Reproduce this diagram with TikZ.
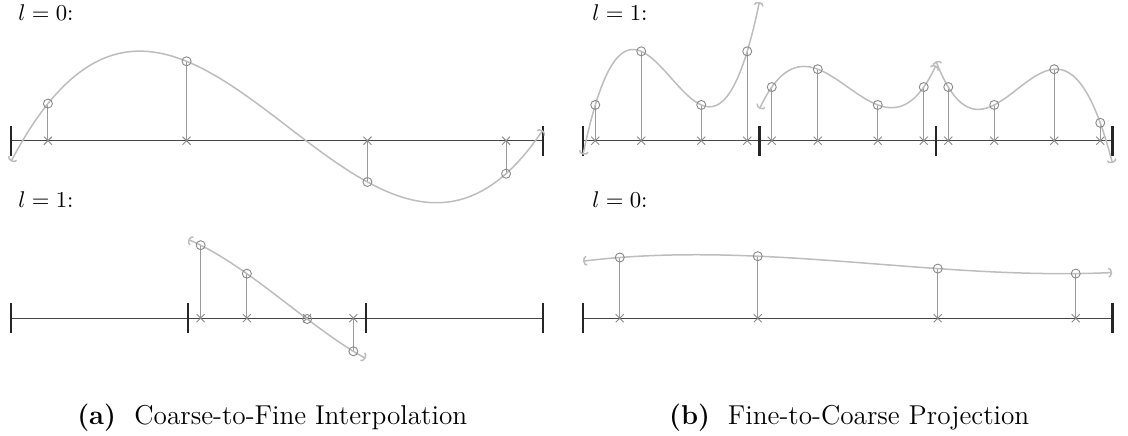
\documentclass[tikz,border=0pt]{standalone}
\usetikzlibrary{arrows.meta}
\definecolor{curvecol}{HTML}{BDBDBD}
\definecolor{axiscol}{HTML}{454545}
\definecolor{stemcol}{HTML}{9A9A9A}
\definecolor{markcol}{HTML}{8A8A8A}
\begin{document}
\begin{tikzpicture}[x=0.44pt,y=-0.44pt,
  declare function={
    lg(\t,\a,\b,\c,\d) = \a*(\t-0.330009)*(\t-0.669991)*(\t-0.930568)/(-0.134761)
                       + \b*(\t-0.069432)*(\t-0.669991)*(\t-0.930568)/0.053204
                       + \c*(\t-0.069432)*(\t-0.330009)*(\t-0.930568)/(-0.053204)
                       + \d*(\t-0.069432)*(\t-0.330009)*(\t-0.669991)/0.134761;
    pa(\t) = lg(\t,37.1,79.4,-41.3,-33);
  },
  curve/.style={draw=curvecol, line width=0.66pt,
    {Arc Barb[width=4.5pt,length=1.6pt]}-{Arc Barb[width=4.5pt,length=1.6pt]}},
  axisline/.style={draw=axiscol, line width=0.6pt},
  tickmark/.style={draw=black!85, line width=0.9pt},
  stem/.style={draw=stemcol, line width=0.45pt},
  xmark/.style={draw=markcol, line width=0.4pt},
  omark/.style={circle, draw=markcol, line width=0.4pt, inner sep=0pt, minimum size=3.96pt},
  lbl/.style={anchor=base west, inner sep=0pt, font=\fontsize{10}{12}\selectfont},
  captext/.style={anchor=base west, inner sep=0pt, font=\fontsize{12}{14.4}\selectfont},
]
\useasboundingbox (0,0) rectangle (1128,436);

% ---------- labels ----------
\node[lbl] (la0) at (17.9,20.8) {$l=0$:};
\node[lbl] (la1) at (17.9,207.7) {$l=1$:};
\node[lbl] (lb1) at (591.8,20.8) {$l=1$:};
\node[lbl] (lb0) at (591.8,207.7) {$l=0$:};

% ---------- (a) top: l=0 ----------
\coordinate (aA0) at (11,140.7);
\coordinate (aA1) at (543,140.7);
\draw[axisline] (aA0) -- (aA1);
\draw[tickmark] (11,125.7) -- (11,155.7);
\draw[tickmark] (543,125.7) -- (543,155.7);
\foreach \t [count=\i] in {0.069432,0.330009,0.669991,0.930568}{
  \pgfmathsetmacro\px{11+532*\t}
  \pgfmathsetmacro\py{140.7-pa(\t)}
  \coordinate (at\i) at (\px,140.7);
  \draw[stem] (at\i) -- (\px,\py);
  \draw[xmark] (at\i) ++(-4,-4) -- ++(8,8) ++(-8,0) -- ++(8,-8);
}
\draw[curve] plot[domain=0:1, samples=90] ({11+532*\x}, {140.7-pa(\x)});
\foreach \t [count=\i] in {0.069432,0.330009,0.669991,0.930568}{
  \pgfmathsetmacro\px{11+532*\t}
  \pgfmathsetmacro\py{140.7-pa(\t)}
  \node[omark] (ao\i) at (\px,\py) {};
}

% ---------- (a) bottom: l=1 ----------
\coordinate (aB0) at (11,318.2);
\coordinate (aB1) at (543,318.2);
\draw[axisline] (aB0) -- (aB1);
\foreach \xx in {11,188.33,365.67,543}{
  \draw[tickmark] (\xx,303.2) -- (\xx,333.2);
}
\foreach \t [count=\i] in {0.069432,0.330009,0.669991,0.930568}{
  \pgfmathsetmacro\T{1/3+\t/3}
  \pgfmathsetmacro\px{11+532*\T}
  \pgfmathsetmacro\py{318.2-pa(\T)}
  \coordinate (bt\i) at (\px,318.2);
  \draw[stem] (bt\i) -- (\px,\py);
  \draw[xmark] (bt\i) ++(-4,-4) -- ++(8,8) ++(-8,0) -- ++(8,-8);
}
\draw[curve] plot[domain=0.33333:0.66667, samples=40] ({11+532*\x}, {318.2-pa(\x)});
\foreach \t [count=\i] in {0.069432,0.330009,0.669991,0.930568}{
  \pgfmathsetmacro\T{1/3+\t/3}
  \pgfmathsetmacro\px{11+532*\T}
  \pgfmathsetmacro\py{318.2-pa(\T)}
  \node[omark] (bo\i) at (\px,\py) {};
}

% ---------- (b) top: l=1 ----------
\coordinate (bA0) at (583,140.7);
\coordinate (bA1) at (1112.5,140.7);
\draw[axisline] (bA0) -- (bA1);
\foreach \xx in {583,759.5,936,1112.5}{
  \draw[tickmark] (\xx,126.2) -- (\xx,155.7);
}
\foreach \xo/\va/\vb/\vc/\vd [count=\c] in {583/2/5/2/5, 759.5/3/4/2/3, 936/3/2/4/1}{
  \foreach \t/\v [count=\i] in {0.069432/\va,0.330009/\vb,0.669991/\vc,0.930568/\vd}{
    \pgfmathsetmacro\px{\xo+176.5*\t}
    \pgfmathsetmacro\py{140.7-17.87*\v}
    \coordinate (ct\c\i) at (\px,140.7);
    \draw[stem] (ct\c\i) -- (\px,\py);
    \draw[xmark] (ct\c\i) ++(-4,-4) -- ++(8,8) ++(-8,0) -- ++(8,-8);
  }
  \draw[curve] plot[domain=0:1, samples=50]
     ({\xo+176.5*\x}, {140.7-17.87*lg(\x,\va,\vb,\vc,\vd)});
  \foreach \t/\v [count=\i] in {0.069432/\va,0.330009/\vb,0.669991/\vc,0.930568/\vd}{
    \pgfmathsetmacro\px{\xo+176.5*\t}
    \pgfmathsetmacro\py{140.7-17.87*\v}
    \node[omark] (co\c\i) at (\px,\py) {};
  }
}

% ---------- (b) bottom: l=0 ----------
\coordinate (bB0) at (583,318.2);
\coordinate (bB1) at (1112.5,318.2);
\draw[axisline] (bB0) -- (bB1);
\draw[tickmark] (583,303.2) -- (583,333.2);
\draw[tickmark] (1112.5,303.2) -- (1112.5,333.2);
\foreach \t/\v [count=\i] in {0.069432/60.7,0.330009/62,0.669991/49.6,0.930568/44.6}{
  \pgfmathsetmacro\px{583+529.5*\t}
  \pgfmathsetmacro\py{318.2-\v}
  \coordinate (dt\i) at (\px,318.2);
  \draw[stem] (dt\i) -- (\px,\py);
  \draw[xmark] (dt\i) ++(-4,-4) -- ++(8,8) ++(-8,0) -- ++(8,-8);
}
\draw[curve] plot[domain=0:1, samples=60]
   ({583+529.5*\x}, {318.2-lg(\x,60.7,62,49.6,44.6)});
\foreach \t/\v [count=\i] in {0.069432/60.7,0.330009/62,0.669991/49.6,0.930568/44.6}{
  \pgfmathsetmacro\px{583+529.5*\t}
  \pgfmathsetmacro\py{318.2-\v}
  \node[omark] (do\i) at (\px,\py) {};
}

% ---------- captions ----------
\node[captext] (capa) at (76.8,425) {\textbf{(a)}};
\node[captext] (capat) at (133.9,425) {Coarse-to-Fine Interpolation};
\node[captext] (capb) at (668.6,425) {\textbf{(b)}};
\node[captext] (capbt) at (727.5,425) {Fine-to-Coarse Projection};
\end{tikzpicture}
\end{document}
